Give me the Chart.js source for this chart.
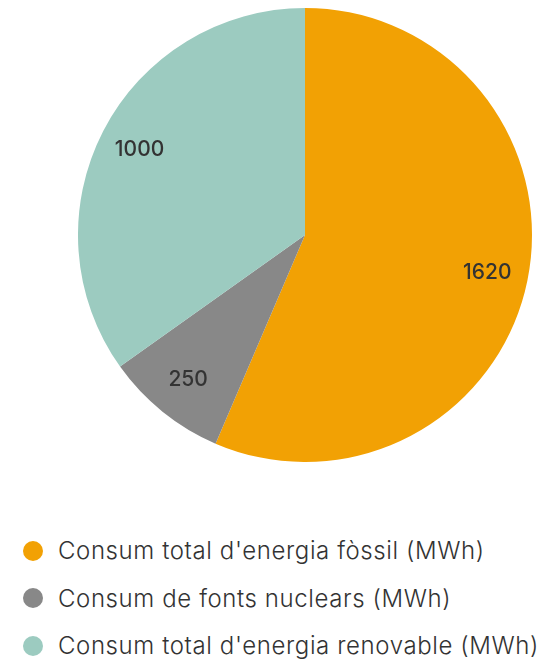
<!DOCTYPE html>
<html>
<head>
<meta charset="utf-8">
<script src="https://cdn.jsdelivr.net/npm/chart.js@4"></script>
<style>
  html, body { margin: 0; padding: 0; background: #fff; }
  body { width: 549px; height: 663px; position: relative; overflow: hidden; font-family: Inter, 'Noto Sans', sans-serif; }
  #pieWrap { position: absolute; left: 78px; top: 8px; width: 454px; height: 454px; }
  #legend { position: absolute; left: 23px; top: 527px; }
  .lg-row { display: flex; align-items: center; height: 47.5px; }
  .lg-dot { width: 20px; height: 20px; border-radius: 50%; margin-right: 15px; flex: none; }
  .lg-txt { font-size: 24px; font-weight: 300; color: #333; white-space: nowrap; letter-spacing: 0.6px; }
</style>
</head>
<body>
<div id="pieWrap"><canvas id="pie"></canvas></div>
<div id="legend"></div>
<script>
// ── data ──────────────────────────────────────────
const labels = [
  "Consum total d'energia fòssil (MWh)",
  'Consum de fonts nuclears (MWh)',
  "Consum total d'energia renovable (MWh)"
];
const values = [1620, 250, 1000];
const colors = ['#F2A104', '#888888', '#9CCBC0'];

// Value labels inside each slice
const sliceLabels = {
  id: 'sliceLabels',
  afterDatasetsDraw(chart) {
    const ctx = chart.ctx;
    const meta = chart.getDatasetMeta(0);
    ctx.save();
    ctx.fillStyle = '#333';
    ctx.font = '500 21px Inter, sans-serif';
    ctx.textAlign = 'center';
    ctx.textBaseline = 'middle';
    meta.data.forEach((arc, i) => {
      const p = arc.getProps(['x', 'y', 'startAngle', 'endAngle', 'outerRadius'], true);
      const a = (p.startAngle + p.endAngle) / 2;
      const r = p.outerRadius * 0.82;
      ctx.fillText(String(values[i]), p.x + Math.cos(a) * r, p.y + Math.sin(a) * r);
    });
    ctx.restore();
  }
};

new Chart(document.getElementById('pie'), {
  type: 'pie',
  data: {
    labels: labels,
    datasets: [{ data: values, backgroundColor: colors, borderWidth: 0 }]
  },
  options: {
    responsive: true, maintainAspectRatio: false, animation: false,
    layout: { padding: 0 },
    plugins: { legend: { display: false }, tooltip: { enabled: false } }
  },
  plugins: [sliceLabels]
});

// HTML legend
const lg = document.getElementById('legend');
labels.forEach((l, i) => {
  const row = document.createElement('div');
  row.className = 'lg-row';
  row.innerHTML = `<span class="lg-dot" style="background:${colors[i]}"></span><span class="lg-txt">${l}</span>`;
  lg.appendChild(row);
});
</script>
</body>
</html>
